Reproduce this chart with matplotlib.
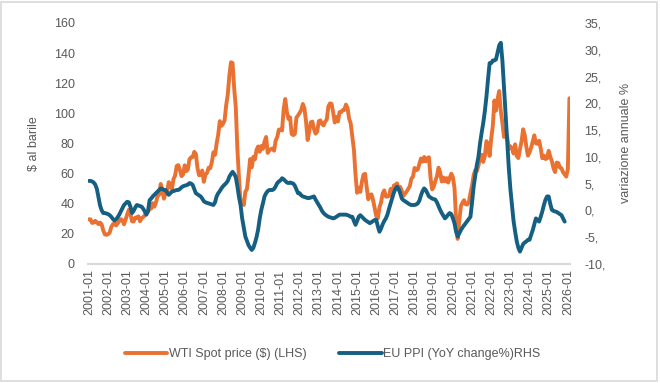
import matplotlib
matplotlib.use("Agg")
import matplotlib.pyplot as plt
from matplotlib.patches import Rectangle
import numpy as np

plt.rcParams['font.family'] = ['Liberation Sans', 'DejaVu Sans']

# monthly data, 2001-01 onwards
wti = [
    29.6, 29.6, 27.2, 27.4, 28.6, 27.6, 26.4, 27.4, 26.2, 22.2, 19.6, 19.3,   # 2001
    19.7, 20.7, 24.4, 26.3, 27.0, 25.5, 26.9, 28.4, 29.7, 28.9, 26.3, 29.4,   # 2002
    32.9, 35.9, 33.6, 28.3, 28.1, 30.7, 30.8, 31.6, 28.3, 30.3, 31.1, 32.1,   # 2003
    34.3, 34.7, 36.7, 36.7, 40.3, 38.0, 40.7, 44.9, 45.9, 53.1, 48.5, 43.3,   # 2004
    46.8, 48.0, 54.3, 53.0, 49.8, 56.3, 58.7, 65.0, 65.6, 62.4, 58.3, 59.4,   # 2005
    65.5, 61.6, 62.7, 69.4, 70.8, 70.9, 74.4, 73.0, 63.8, 58.9, 59.1, 62.0,   # 2006
    54.5, 59.3, 60.4, 63.9, 63.5, 67.5, 74.1, 72.4, 79.9, 85.8, 94.8, 91.7,   # 2007
    93.0, 95.4, 105.5, 112.6, 125.4, 133.9, 133.4, 116.7, 104.1, 76.6, 57.3, 41.1,  # 2008
    41.7, 39.1, 47.9, 49.7, 59.0, 69.6, 64.1, 71.1, 69.4, 75.7, 78.0, 74.5,   # 2009
    78.3, 76.4, 81.2, 84.3, 73.7, 75.3, 76.3, 76.6, 75.2, 81.9, 84.3, 89.2,   # 2010
    89.2, 88.6, 102.9, 109.5, 100.9, 96.3, 97.3, 86.3, 85.5, 86.3, 97.2, 98.6,  # 2011
    100.3, 102.2, 106.2, 103.3, 94.7, 82.3, 87.9, 94.1, 94.5, 89.5, 86.5, 87.9,  # 2012
    94.8, 95.3, 92.9, 92.0, 94.5, 95.8, 104.6, 106.6, 106.3, 100.5, 93.9, 97.6,  # 2013
    94.6, 100.8, 100.8, 102.1, 102.2, 105.8, 103.6, 96.5, 93.2, 84.4, 75.8, 59.3,  # 2014
    47.2, 50.6, 47.8, 54.5, 59.3, 59.8, 50.9, 42.9, 45.5, 46.2, 42.4, 37.2,   # 2015
    31.7, 30.3, 37.5, 40.8, 46.7, 48.8, 44.7, 44.7, 45.2, 49.8, 45.7, 52.0,   # 2016
    52.5, 53.5, 49.3, 51.1, 48.5, 45.2, 46.6, 48.0, 49.8, 51.6, 56.6, 57.9,   # 2017
    63.7, 62.2, 62.7, 66.3, 70.0, 67.9, 71.0, 68.1, 70.2, 70.8, 57.0, 49.5,   # 2018
    51.4, 55.0, 58.2, 63.9, 60.8, 54.7, 57.4, 54.8, 57.0, 54.0, 57.0, 59.9,   # 2019
    57.5, 50.5, 29.2, 16.6, 28.6, 38.3, 40.7, 42.3, 39.6, 39.4, 41.0, 47.0,   # 2020
    52.0, 59.0, 62.3, 61.7, 65.2, 71.4, 72.5, 67.7, 71.6, 81.5, 79.2, 71.7,   # 2021
    83.2, 91.6, 108.5, 101.8, 109.6, 114.8, 101.6, 93.7, 84.3, 87.6, 84.4, 76.4,  # 2022
    78.1, 76.8, 73.3, 79.4, 71.6, 70.3, 76.1, 81.4, 89.4, 85.6, 77.7, 71.9,   # 2023
    74.1, 77.2, 81.3, 85.4, 80.0, 79.8, 81.8, 76.7, 70.2, 71.9, 69.7, 70.1,   # 2024
    75.1, 71.2, 68.2, 63.5, 61.0, 67.3, 67.0, 64.0, 63.5, 60.9, 59.5, 58.0,   # 2025
    63.0, 110.0,                                                              # 2026
]

eu_ppi = [
    5.5, 5.5, 5.4, 5.2, 4.8, 4.0, 2.5, 0.9, 0.0, -0.5, -0.5, -0.6,     # 2001
    -0.7, -0.9, -1.2, -1.6, -1.9, -1.7, -1.3, -0.8, -0.2, 0.4, 1.0, 1.3,  # 2002
    1.6, 1.5, 0.7, -0.5, -0.1, 0.5, 1.0, 0.9, 0.8, 0.7, 0.3, -0.2,      # 2003
    -0.8, -0.2, 1.9, 2.2, 2.6, 2.9, 3.2, 3.5, 3.8, 4.1, 4.0, 3.8,       # 2004
    3.8, 3.3, 2.9, 3.2, 3.5, 3.6, 3.7, 3.8, 3.8, 4.0, 4.3, 4.5,         # 2005
    4.6, 4.7, 4.8, 5.1, 5.0, 4.75, 4.0, 3.2, 3.0, 2.8, 2.6, 2.2,        # 2006
    1.7, 1.5, 1.4, 1.3, 1.2, 1.1, 1.0, 1.5, 2.6, 3.2, 3.6, 4.1,         # 2007
    4.5, 4.8, 5.1, 5.5, 6.3, 6.8, 7.2, 6.8, 6.2, 4.5, 2.5, 1.0,         # 2008
    -1.5, -3.2, -4.9, -5.7, -6.5, -7.0, -7.4, -7.0, -6.1, -5.0, -3.6, -1.5,  # 2009
    0.1, 1.3, 2.6, 3.2, 3.6, 3.8, 3.8, 3.8, 4.0, 4.5, 5.1, 5.4,         # 2010
    5.6, 6.0, 5.8, 5.5, 5.2, 5.1, 5.2, 5.1, 5.0, 4.6, 3.9, 3.2,         # 2011
    3.2, 2.8, 2.6, 2.5, 2.4, 2.3, 2.3, 2.4, 2.5, 2.6, 2.0, 1.5,         # 2012
    1.0, 0.5, -0.1, -0.5, -0.8, -1.0, -1.2, -1.3, -1.4, -1.5, -1.4, -1.2,  # 2013
    -1.0, -0.8, -0.8, -0.8, -0.8, -0.8, -0.9, -1.0, -1.2, -1.2, -2.0, -2.7,  # 2014
    -2.0, -1.2, -0.9, -1.2, -1.5, -1.8, -2.0, -2.2, -2.4, -2.2, -2.0, -1.8,  # 2015
    -1.8, -3.0, -4.0, -3.4, -2.6, -2.0, -1.5, -0.8, 0.3, 1.3, 2.3, 3.3,    # 2016
    4.0, 4.4, 4.0, 3.2, 2.2, 1.9, 1.7, 1.5, 1.3, 1.1, 1.0, 1.0,         # 2017
    1.0, 1.1, 1.3, 1.8, 2.8, 3.6, 4.1, 3.8, 3.2, 2.6, 2.4, 2.2,         # 2018
    2.1, 2.0, 1.5, 0.8, 0.1, -0.5, -1.0, -1.5, -1.2, -0.8, -0.5, -0.7,  # 2019
    -1.5, -2.4, -4.0, -4.9, -4.3, -3.7, -3.2, -2.8, -2.4, -2.0, -1.6, -1.2,  # 2020
    1.5, 4.4, 6.5, 8.5, 10.0, 12.5, 14.5, 16.3, 18.5, 21.2, 24.5, 27.5,  # 2021
    27.5, 28.0, 28.0, 28.2, 29.5, 30.8, 31.3, 28.0, 23.0, 18.0, 13.0, 8.0,  # 2022
    4.0, 1.0, -2.0, -4.0, -5.8, -7.0, -7.7, -7.0, -6.3, -6.0, -5.8, -5.5,   # 2023
    -5.5, -4.6, -3.7, -2.6, -1.5, -1.8, -2.1, -1.2, -0.2, 1.0, 2.0, 2.6,    # 2024
    2.6, 1.2, 0.1, -0.1, -0.2, -0.3, -0.5, -0.7, -0.9, -1.5, -2.1,          # 2025
]

tick_labels = [f"{y}-01" for y in range(2001, 2027)]
left_ticks = list(range(0, 161, 20))
right_ticks = list(range(-10, 36, 5))

orange = '#E97132'
blue = '#156082'
grey = '#595959'

fig = plt.figure(figsize=(6.6, 3.83), dpi=100)
ax = fig.add_axes([0.133, 0.311, 0.731, 0.629])
ax2 = ax.twinx()

x_wti = np.arange(len(wti))
x_ppi = np.arange(len(eu_ppi))
l1, = ax.plot(x_wti, wti, color=orange, lw=2.8, solid_capstyle='round',
              label='WTI Spot price ($) (LHS)')
l2, = ax2.plot(x_ppi, eu_ppi, color=blue, lw=2.8, solid_capstyle='round',
               label='EU PPI (YoY change%)RHS')

ax.set_xlim(-0.7, len(wti) - 0.5)
ax.set_ylim(0, 160)
ax2.set_ylim(-10, 35)

ax.set_xticks(np.arange(0, len(wti), 12), tick_labels, rotation=90)
ax.set_yticks(left_ticks)
ax2.set_yticks(right_ticks, [f"{v}," for v in right_ticks])

ax.tick_params(axis='x', length=0, pad=4, labelsize=9, labelcolor=grey)
ax.tick_params(axis='y', length=0, pad=9.5, labelsize=9, labelcolor=grey)
ax2.tick_params(axis='y', length=0, pad=10, labelsize=9, labelcolor=grey)

for s in ['top', 'left', 'right']:
    ax.spines[s].set_visible(False)
for s in ax2.spines.values():
    s.set_visible(False)
ax.spines['bottom'].set_color('#D9D9D9')
ax.spines['bottom'].set_linewidth(1.5)

ax.set_ylabel('$ al barile', fontsize=9, color=grey)
ax.yaxis.set_label_coords(-0.098, 0.5)
ax2.set_ylabel('variazione annuale %', fontsize=9, color=grey)
ax2.yaxis.set_label_coords(1.104, 0.5)

leg = fig.legend([l1, l2], [l1.get_label(), l2.get_label()], loc='center',
                 bbox_to_anchor=(0.504, 0.076), ncol=2, frameon=False,
                 fontsize=9, handlelength=3.4, handletextpad=0.15,
                 columnspacing=2.6, labelcolor=grey)

fig.patches.append(Rectangle((0.002, 0.004), 0.994, 0.99, transform=fig.transFigure,
                             fill=False, edgecolor='#D9D9D9', lw=1.2))

fig.savefig('out.png', dpi=100)
